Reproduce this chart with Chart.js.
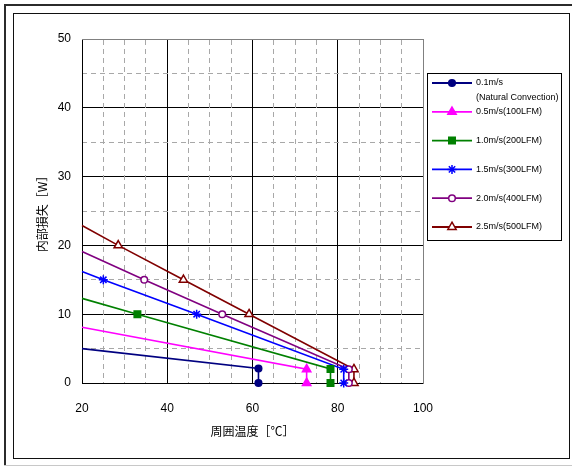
<!DOCTYPE html>
<html><head><meta charset="utf-8">
<script src="https://cdn.jsdelivr.net/npm/chart.js@4.4.1/dist/chart.umd.min.js"></script>
<style>
html,body{margin:0;padding:0;background:#fff;}
#wrap{position:relative;width:572px;height:466px;overflow:hidden;background:#fff;}
#outer{position:absolute;left:4px;top:4px;width:600px;height:600px;border-left:2px solid #2b2b2b;border-top:2px solid #2b2b2b;}
#shade{position:absolute;left:4px;top:465px;width:600px;height:1px;background:#c8c8c8;}
#inner{position:absolute;left:13px;top:13px;width:555px;height:444px;border:1.5px solid #111;}
canvas{position:absolute;left:0;top:0;}
</style></head>
<body>
<div id="wrap">
<div id="outer"></div><div id="shade"></div><div id="inner"></div>
<canvas id="c" width="572" height="466"></canvas>
</div>
<script>
// ---- data ----
const xTitle = '周囲温度［℃］';
const yTitle = '内部損失［W］';
const xTickValues = [20, 40, 60, 80, 100];
const yTickValues = [0, 10, 20, 30, 40, 50];
const seriesLabels = ['0.1m/s', '0.5m/s(100LFM)', '1.0m/s(200LFM)', '1.5m/s(300LFM)', '2.0m/s(400LFM)', '2.5m/s(500LFM)'];
const subLabel = '(Natural Convection)';

const temp01 = [20, 61.4, 61.4];
const loss01 = [5.0, 2.1, 0];
const temp05 = [20, 72.7, 72.7];
const loss05 = [8.1, 2.0, 0];
const temp10 = [20, 33.0, 78.3, 78.3];
const loss10 = [12.3, 10, 2.05, 0];
const temp15 = [20, 25.0, 46.9, 81.4, 81.4];
const loss15 = [16.2, 15, 10, 2.0, 0];
const temp20 = [20, 34.6, 52.9, 82.6, 82.6];
const loss20 = [19.1, 15, 10, 2.0, 0];
const temp25 = [20, 28.5, 43.8, 59.2, 83.8, 83.8];
const loss25 = [22.9, 20, 15, 10, 2.0, 0];

const colors = ['#000080', '#FF00FF', '#008000', '#0000FF', '#800080', '#800000'];
const styles = ['circle', 'triangle', 'rect', 'star', 'circle', 'triangle'];
const radii  = [3.3, 4.8, 4.6, 4.5, 3.3, 4.8];
const hollow = [false, false, false, false, true, true];

const temps = [temp01, temp05, temp10, temp15, temp20, temp25];
const losses = [loss01, loss05, loss10, loss15, loss20, loss25];

const datasets = temps.map((xs, i) => ({
  label: seriesLabels[i],
  data: xs.map((x, j) => ({x: x, y: losses[i][j]})),
  showLine: true,
  borderColor: colors[i],
  backgroundColor: colors[i],
  borderWidth: 1.6,
  pointStyle: styles[i],
  pointRadius: xs.map((x, j) => j === 0 ? 0 : radii[i]),
  pointBackgroundColor: hollow[i] ? '#fff' : colors[i],
  pointBorderColor: colors[i],
  pointBorderWidth: 1.5,
  tension: 0,
  clip: false
}));

function drawMarker(ctx, style, x, y, r, fill, stroke) {
  ctx.save();
  ctx.fillStyle = fill; ctx.strokeStyle = stroke; ctx.lineWidth = 1.5;
  ctx.beginPath();
  if (style === 'circle') {
    ctx.arc(x, y, r, 0, Math.PI * 2);
    ctx.fill(); ctx.stroke();
  } else if (style === 'triangle') {
    for (let k = 0; k < 3; k++) {
      const a = k * 2 * Math.PI / 3;
      const px = x + Math.sin(a) * r, py = y - Math.cos(a) * r;
      if (k === 0) ctx.moveTo(px, py); else ctx.lineTo(px, py);
    }
    ctx.closePath(); ctx.fill(); ctx.stroke();
  } else if (style === 'rect') {
    const s = r * Math.SQRT1_2;
    ctx.rect(x - s, y - s, 2 * s, 2 * s); ctx.fill(); ctx.stroke();
  } else if (style === 'star') {
    for (let k = 0; k < 4; k++) {
      const a = k * Math.PI / 4;
      ctx.moveTo(x + Math.cos(a) * r, y + Math.sin(a) * r);
      ctx.lineTo(x - Math.cos(a) * r, y - Math.sin(a) * r);
    }
    ctx.stroke();
  }
  ctx.restore();
}

const boxLegend = {
  id: 'boxLegend',
  afterDraw(chart) {
    const ctx = chart.ctx;
    ctx.save();
    ctx.fillStyle = '#fff';
    ctx.fillRect(427.5, 73.5, 134, 167);
    ctx.strokeStyle = '#000'; ctx.lineWidth = 1;
    ctx.strokeRect(427.5, 73.5, 134, 167);
    ctx.font = '9px "Liberation Sans", Arial, sans-serif';
    ctx.textBaseline = 'middle';
    chart.data.datasets.forEach((ds, i) => {
      const y = 83 + i * 28.8;
      ctx.strokeStyle = colors[i]; ctx.lineWidth = 1.8;
      ctx.beginPath(); ctx.moveTo(432, y); ctx.lineTo(472, y); ctx.stroke();
      drawMarker(ctx, styles[i], 452, y, radii[i], hollow[i] ? '#fff' : colors[i], colors[i]);
      ctx.fillStyle = '#000';
      ctx.fillText(ds.label, 476, y);
      if (i === 0) ctx.fillText(subLabel, 476, y + 15);
    });
    ctx.restore();
  }
};

const tickFont = {family: '"Liberation Sans", Arial, sans-serif', size: 12};
const titleFont = {family: '"Noto Sans CJK JP", sans-serif', size: 12};

new Chart(document.getElementById('c'), {
  type: 'scatter',
  data: {datasets: datasets},
  plugins: [boxLegend],
  options: {
    responsive: false,
    animation: false,
    devicePixelRatio: 1,
    layout: {padding: {left: 30, top: 39, right: 149, bottom: 23}},
    plugins: {legend: {display: false}, tooltip: {enabled: false}},
    scales: {
      x: {
        type: 'linear', position: 'bottom', min: 20, max: 100,
        afterBuildTicks: s => { s.ticks = xTickValues.map(v => ({value: v})); },
        afterFit: s => { s.height = 60; },
        ticks: {font: tickFont, color: '#000', padding: 18, maxRotation: 0, autoSkip: false},
        grid: {drawTicks: false, lineWidth: 1, color: c => (c.tick && c.tick.value === 100) ? 'rgba(0,0,0,0)' : '#000'},
        border: {color: '#000', width: 1},
        title: {display: true, text: xTitle, font: titleFont, color: '#000', padding: {top: 0, bottom: 4}}
      },
      y: {
        type: 'linear', position: 'left', min: 0, max: 50,
        afterBuildTicks: s => { s.ticks = yTickValues.map(v => ({value: v})); },
        afterFit: s => { s.width = 52; },
        ticks: {font: tickFont, color: '#000', padding: 11, autoSkip: false},
        grid: {drawTicks: false, lineWidth: 1, color: c => (c.tick && c.tick.value === 50) ? 'rgba(0,0,0,0)' : '#000'},
        border: {color: '#000', width: 1},
        title: {display: true, text: yTitle, font: titleFont, color: '#000', padding: {top: 5, bottom: 0}}
      },
      x2: {
        type: 'linear', position: 'top', min: 20, max: 100,
        afterFit: s => { s.height = 0; },
        ticks: {display: false, stepSize: 5},
        grid: {drawTicks: false, lineWidth: 1, color: c => (c.tick && c.tick.value % 20 === 0) ? 'rgba(0,0,0,0)' : '#a8a8a8'},
        border: {display: true, color: '#808080', width: 1, dash: [5, 4]}
      },
      y2: {
        type: 'linear', position: 'right', min: 0, max: 50,
        afterFit: s => { s.width = 0; },
        ticks: {display: false, stepSize: 5},
        grid: {drawTicks: false, lineWidth: 1, color: c => (c.tick && c.tick.value % 10 === 0) ? 'rgba(0,0,0,0)' : '#a8a8a8'},
        border: {display: true, color: '#808080', width: 1, dash: [5, 4]}
      }
    }
  }
});
</script>
</body></html>
